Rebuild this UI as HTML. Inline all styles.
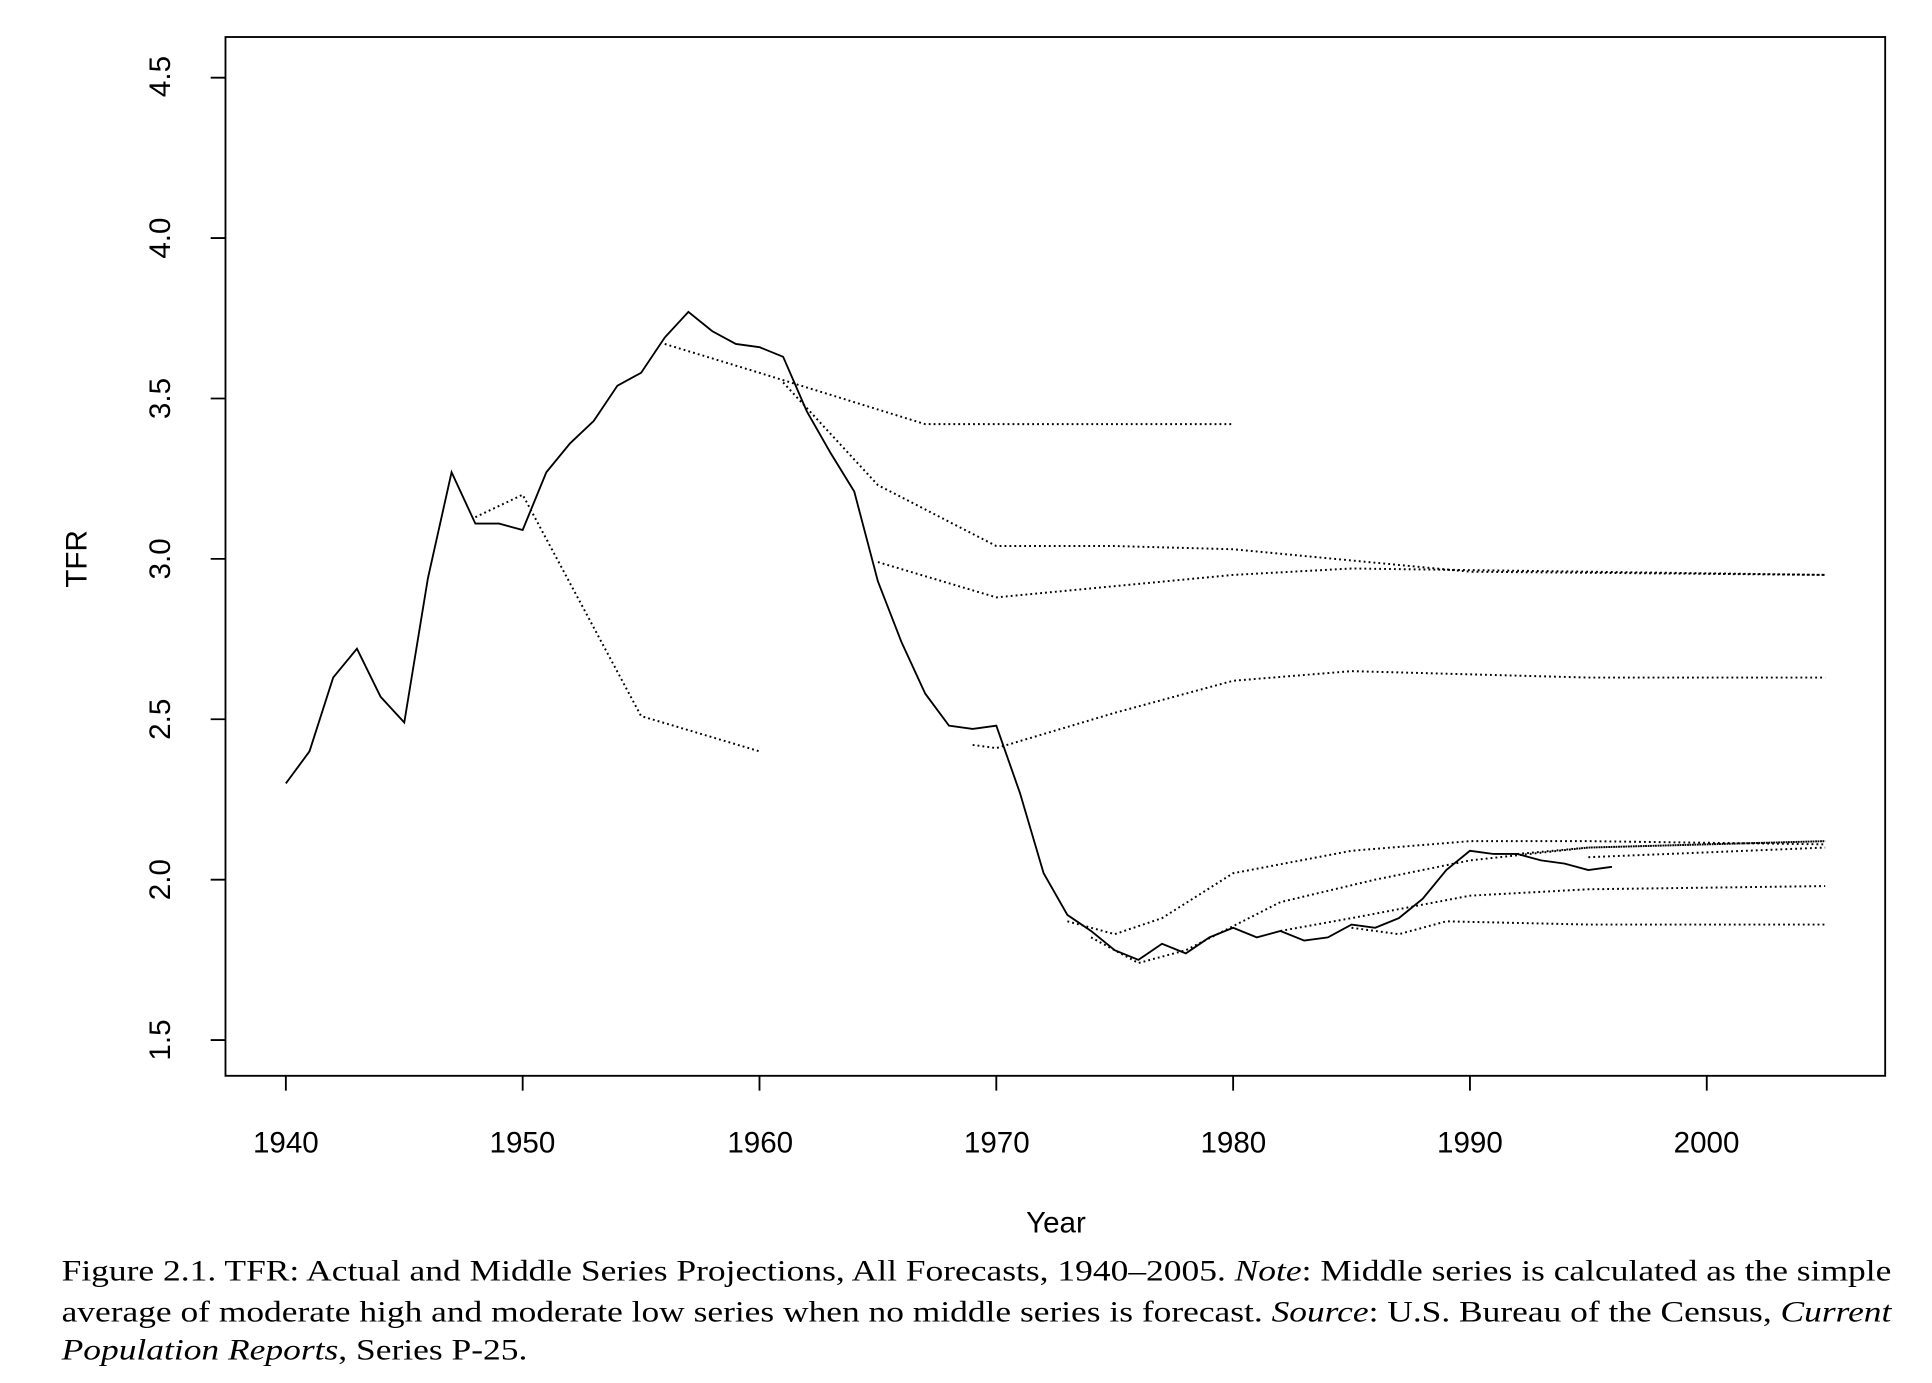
<!DOCTYPE html>
<html><head><meta charset="utf-8"><style>
html,body{margin:0;padding:0;background:#fff;}
svg{display:block;}
</style></head><body>
<svg id="s" width="1932" height="1383" viewBox="0 0 1568 1121" preserveAspectRatio="none" xmlns="http://www.w3.org/2000/svg">
<rect x="183" y="30" width="1347" height="842" fill="none" stroke="#000" stroke-width="1.5"/>
<g font-family="Liberation Sans, sans-serif" font-size="24" fill="#000">
<text x="232" y="934" text-anchor="middle">1940</text>
<text x="424" y="934" text-anchor="middle">1950</text>
<text x="617" y="934" text-anchor="middle">1960</text>
<text x="809" y="934" text-anchor="middle">1970</text>
<text x="1001" y="934" text-anchor="middle">1980</text>
<text x="1193" y="934" text-anchor="middle">1990</text>
<text x="1385" y="934" text-anchor="middle">2000</text>
<text x="857" y="999" text-anchor="middle">Year</text>
<text transform="translate(70,453) rotate(-90)" text-anchor="middle">TFR</text>
<text transform="translate(138,843) rotate(-90)" text-anchor="middle">1.5</text>
<text transform="translate(138,713) rotate(-90)" text-anchor="middle">2.0</text>
<text transform="translate(138,583) rotate(-90)" text-anchor="middle">2.5</text>
<text transform="translate(138,453) rotate(-90)" text-anchor="middle">3.0</text>
<text transform="translate(138,323) rotate(-90)" text-anchor="middle">3.5</text>
<text transform="translate(138,193) rotate(-90)" text-anchor="middle">4.0</text>
<text transform="translate(138,62) rotate(-90)" text-anchor="middle">4.5</text>
</g>
<g font-family="Liberation Serif, serif" font-size="24" fill="#000">
<text x="50" y="1038" textLength="1485" lengthAdjust="spacingAndGlyphs">Figure 2.1.  TFR: Actual and Middle Series Projections, All Forecasts, 1940–2005. <tspan font-style="italic">Note</tspan>: Middle series is calculated as the simple</text>
<text x="50" y="1071" textLength="1485" lengthAdjust="spacingAndGlyphs">average of moderate high and moderate low series when no middle series is forecast. <tspan font-style="italic">Source</tspan>: U.S. Bureau of the Census, <tspan font-style="italic">Current</tspan></text>
<text x="50" y="1102" textLength="378" lengthAdjust="spacingAndGlyphs"><tspan font-style="italic">Population Reports</tspan>, Series P-25.</text>
</g>
<g id="g" fill="none" stroke="#000"></g>
</svg>
<script>
var g=document.getElementById('g');
function X(y){return 232+(y-1940)*19.22;}
function Y(v){return 713-(v-2)*260;}
function line(p,dot){var s='';for(var i=0;i<p.length;i+=2)s+=X(p[i]).toFixed(1)+','+Y(p[i+1]).toFixed(1)+' ';
var e=document.createElementNS('http://www.w3.org/2000/svg','polyline');e.setAttribute('points',s);
e.setAttribute('stroke-width',dot?'1.6':'1.5');if(dot)e.setAttribute('stroke-dasharray','1.5 2.5');g.appendChild(e);}
var ax=[];for(var yr=1940;yr<=2000;yr+=10)ax.push('M'+X(yr)+',872V884');
for(var v=1.5;v<=4.51;v+=0.5)ax.push('M183,'+Y(v)+'H171');
var p=document.createElementNS('http://www.w3.org/2000/svg','path');p.setAttribute('d',ax.join(''));p.setAttribute('stroke-width','1.5');g.appendChild(p);
line([1940,2.30,1941,2.40,1942,2.63,1943,2.72,1944,2.57,1945,2.49,1946,2.94,1947,3.27,1948,3.11,1949,3.11,1950,3.09,1951,3.27,1952,3.36,1953,3.43,1954,3.54,1955,3.58,1956,3.69,1957,3.77,1958,3.71,1959,3.67,1960,3.66,1961,3.63,1962,3.46,1963,3.33,1964,3.21,1965,2.93,1966,2.74,1967,2.58,1968,2.48,1969,2.47,1970,2.48,1971,2.27,1972,2.02,1973,1.89,1974,1.84,1975,1.78,1976,1.75,1977,1.80,1978,1.77,1979,1.82,1980,1.85,1981,1.82,1982,1.84,1983,1.81,1984,1.82,1985,1.86,1986,1.85,1987,1.88,1988,1.94,1989,2.03,1990,2.09,1991,2.08,1992,2.08,1993,2.06,1994,2.05,1995,2.03,1996,2.04],false);
line([1948,3.13,1950,3.20,1955,2.51,1960,2.40],true);
line([1956,3.67,1960,3.58,1967,3.42,1980,3.42],true);
line([1961,3.55,1965,3.23,1970,3.04,1975,3.04,1980,3.03,1990,2.96,2005,2.95],true);
line([1965,2.99,1970,2.88,1980,2.95,1985,2.97,2005,2.95],true);
line([1969,2.42,1970,2.41,1975,2.52,1980,2.62,1985,2.65,1995,2.63,2005,2.63],true);
line([1973,1.87,1975,1.83,1977,1.88,1980,2.02,1985,2.09,1990,2.12,1995,2.12,2005,2.11],true);
line([1974,1.82,1976,1.74,1978,1.78,1982,1.93,1986,2.00,1990,2.06,1995,2.10,2005,2.12],true);
line([1982,1.84,1985,1.88,1990,1.95,1995,1.97,2005,1.98],true);
line([1985,1.85,1987,1.83,1989,1.87,1995,1.86,2005,1.86],true);
line([1995,2.07,2005,2.10],true);
line([1992,2.08,1995,2.10,2005,2.12],true);
</script>
</body></html>
